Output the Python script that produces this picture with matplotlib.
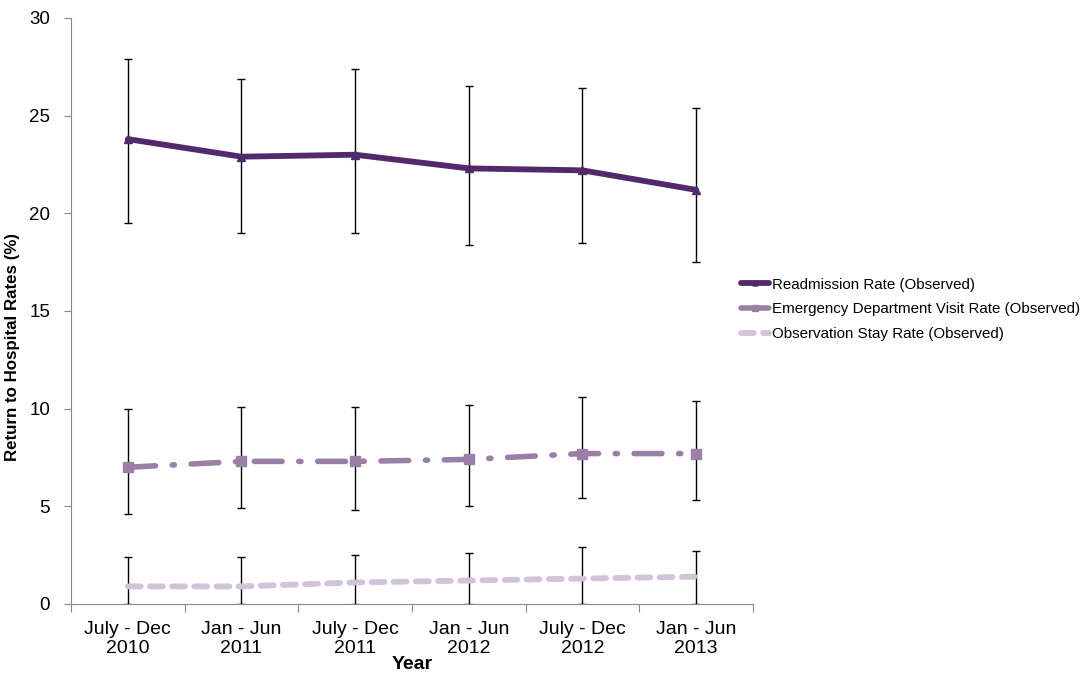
import numpy as np
import matplotlib.pyplot as plt

plt.rcParams['font.family'] = ['Liberation Sans', 'DejaVu Sans']

# Periods on the x axis
periods = ["July - Dec\n2010", "Jan - Jun\n2011", "July - Dec\n2011",
           "Jan - Jun\n2012", "July - Dec\n2012", "Jan - Jun\n2013"]

# Observed rates (%) and the ends of their error bars
readmit = [23.8, 22.9, 23.0, 22.3, 22.2, 21.2]
readmit_hi = [27.9, 26.9, 27.4, 26.5, 26.4, 25.4]
readmit_lo = [19.5, 19.0, 19.0, 18.4, 18.5, 17.5]

ed_visit = [7.0, 7.3, 7.3, 7.4, 7.7, 7.7]
ed_hi = [10.0, 10.1, 10.1, 10.2, 10.6, 10.4]
ed_lo = [4.6, 4.9, 4.8, 5.0, 5.4, 5.3]

obs_stay = [0.9, 0.9, 1.1, 1.2, 1.3, 1.4]
obs_hi = [2.4, 2.4, 2.5, 2.6, 2.9, 2.7]
obs_lo = [0.0, 0.0, 0.0, 0.0, 0.0, 0.0]

c_readmit = "#522a6b"
c_ed = "#9b7fa6"
c_obs = "#d2c3d8"

fig = plt.figure(figsize=(10.85, 6.74), dpi=100)
ax = fig.add_axes([0.0654, 0.1039, 0.6286, 0.8694])

x = np.arange(len(periods))


def draw_errors(vals, hi, lo):
    vals = np.array(vals)
    err = [vals - np.array(lo), np.array(hi) - vals]
    ax.errorbar(x, vals, yerr=err, fmt='none', ecolor='black', elinewidth=1,
                capsize=3, capthick=1, zorder=1)


draw_errors(readmit, readmit_hi, readmit_lo)
draw_errors(ed_visit, ed_hi, ed_lo)
draw_errors(obs_stay, obs_hi, obs_lo)

ax.plot(x, readmit, color=c_readmit, lw=4.2, marker='^', ms=6,
        solid_capstyle='round', label="Readmission Rate (Observed)", zorder=3)
ax.plot(x, ed_visit, color=c_ed, lw=4, marker='s', ms=7,
        dashes=(5, 3, 0.4, 3), dash_capstyle='round',
        label="Emergency Department Visit Rate (Observed)", zorder=3)
ax.plot(x, obs_stay, color=c_obs, lw=4.2, dashes=(2.2, 1.6),
        dash_capstyle='round', label="Observation Stay Rate (Observed)", zorder=3)

ax.set_xlim(-0.5, len(periods) - 0.5)
ax.set_ylim(0, 30)
ax.set_yticks([0, 5, 10, 15, 20, 25, 30])

# boundary ticks between categories, labels centred under each point
ax.set_xticks(np.arange(-0.5, len(periods)), labels=[])
ax.set_xticks(x, labels=periods, minor=True)
ax.tick_params(axis='x', which='minor', length=0, labelsize=14, pad=12)
ax.tick_params(axis='x', which='major', length=6, color='#888888')
ax.tick_params(axis='y', length=5, color='#888888', labelsize=13.5, pad=10)

for s in ['top', 'right']:
    ax.spines[s].set_visible(False)
for s in ['left', 'bottom']:
    ax.spines[s].set_color('#888888')

ax.set_xlabel("Year", fontsize=14, fontweight='bold')
ax.xaxis.set_label_coords(0.5, -0.089)
ax.set_ylabel("Return to Hospital Rates (%)", fontsize=12.2, fontweight='bold')
ax.yaxis.set_label_coords(-0.075, 0.4386)

fig.legend(loc='center left', bbox_to_anchor=(0.670, 0.541), frameon=False,
           fontsize=10.9, handlelength=1.9, labelspacing=0.7, handletextpad=0.2,
           markerscale=0.6)

fig.savefig("out.png", dpi=100)
